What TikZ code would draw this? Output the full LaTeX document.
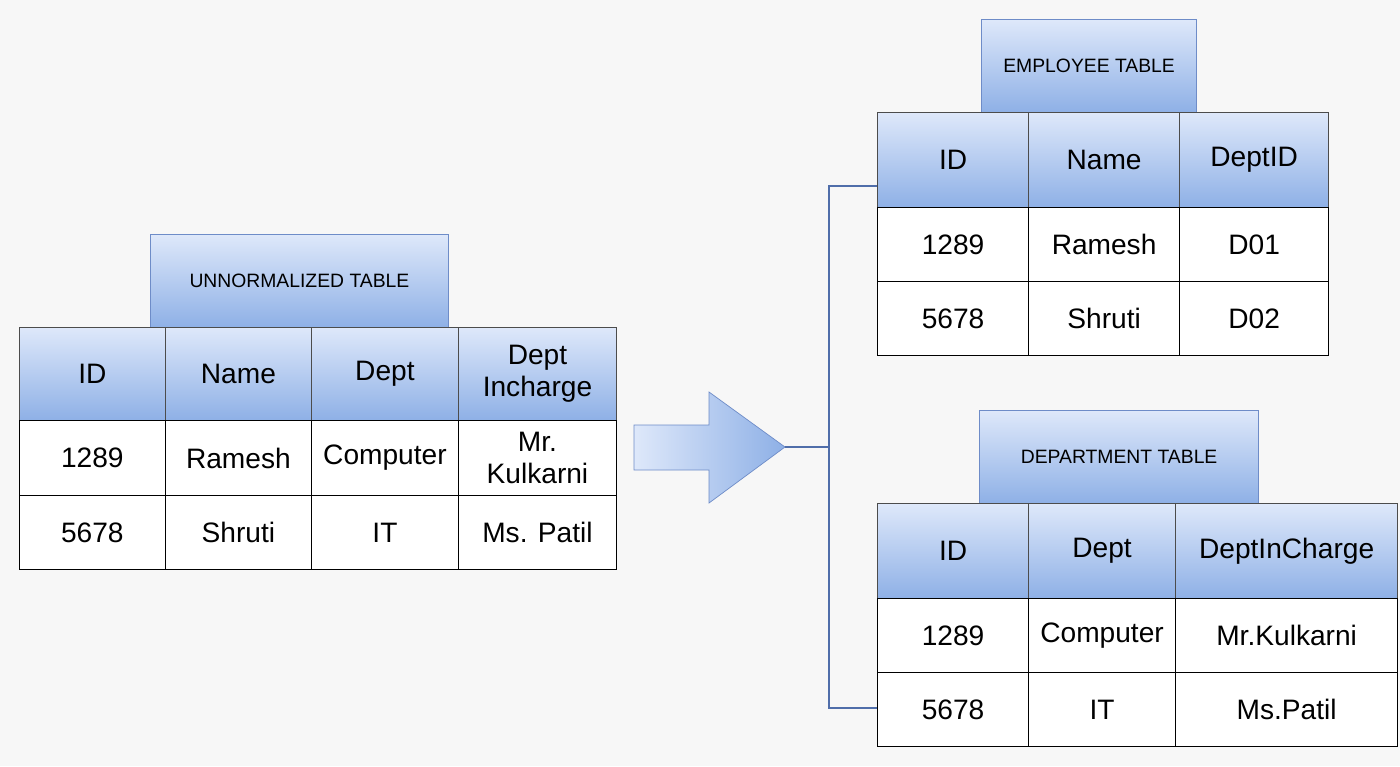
\documentclass[tikz,border=0pt]{standalone}
\usepackage{fontspec}
\setmainfont{Liberation Sans}
\definecolor{hdrbot}{RGB}{142,176,230}
\definecolor{hdrtop}{RGB}{222,232,250}
\definecolor{ttlline}{RGB}{110,140,200}
\definecolor{linkline}{RGB}{80,110,170}
\tikzset{
  hdr/.style={draw=black!70, top color=hdrtop, bottom color=hdrbot, inner sep=0pt, align=center, font=\fontsize{16}{18}\selectfont},
  ttl/.style={hdr, draw=ttlline, font=\fontsize{11}{13}\selectfont},
  cel/.style={draw=black, fill=white, inner sep=0pt, align=center, font=\fontsize{16}{18}\selectfont},
}
\newcommand{\cellbox}[6]{% style, name, x1, y1, x2, y2 ... text
  \node[#1, minimum width=(#5-#3)*0.02cm, minimum height=(#6-#4)*0.02cm, anchor=north west] (#2) at (#3*0.02,-#4*0.02)}
\begin{document}
\begin{tikzpicture}
  \fill[gray!6] (0,0) rectangle (28,-15.32);
  \useasboundingbox (0,0) rectangle (28,-15.32);
  % unnormalized
  \cellbox{ttl}{ut}{150}{234}{448}{327} {UNNORMALIZED TABLE};
  \cellbox{hdr}{u1}{19}{327}{165}{420} {ID};
  \cellbox{hdr}{u2}{165}{327}{311}{420} {Name};
  \cellbox{hdr}{u3}{311}{327}{458}{420} {Dept};
  \cellbox{hdr}{u4}{458}{327}{616}{420} {Dept\\Incharge};
  \cellbox{cel}{u5}{19}{420}{165}{495} {1289};
  \cellbox{cel}{u6}{165}{420}{311}{495} {Ramesh};
  \cellbox{cel}{u7}{311}{420}{458}{495} {Computer};
  \cellbox{cel}{u8}{458}{420}{616}{495} {Mr.\\Kulkarni};
  \cellbox{cel}{u9}{19}{495}{165}{569} {5678};
  \cellbox{cel}{u10}{165}{495}{311}{569} {Shruti};
  \cellbox{cel}{u11}{311}{495}{458}{569} {IT};
  \cellbox{cel}{u12}{458}{495}{616}{569} {Ms. Patil};
  % employee
  \cellbox{ttl}{et}{981}{19}{1196}{112} {EMPLOYEE TABLE};
  \cellbox{hdr}{e1}{877}{112}{1028}{207} {ID};
  \cellbox{hdr}{e2}{1028}{112}{1179}{207} {Name};
  \cellbox{hdr}{e3}{1179}{112}{1328}{207} {DeptID};
  \cellbox{cel}{e4}{877}{207}{1028}{281} {1289};
  \cellbox{cel}{e5}{1028}{207}{1179}{281} {Ramesh};
  \cellbox{cel}{e6}{1179}{207}{1328}{281} {D01};
  \cellbox{cel}{e7}{877}{281}{1028}{355} {5678};
  \cellbox{cel}{e8}{1028}{281}{1179}{355} {Shruti};
  \cellbox{cel}{e9}{1179}{281}{1328}{355} {D02};
  % department
  \cellbox{ttl}{dt}{979}{410}{1258}{503} {DEPARTMENT TABLE};
  \cellbox{hdr}{d1}{877}{503}{1028}{598} {ID};
  \cellbox{hdr}{d2}{1028}{503}{1175}{598} {Dept};
  \cellbox{hdr}{d3}{1175}{503}{1397}{598} {DeptInCharge};
  \cellbox{cel}{d4}{877}{598}{1028}{672} {1289};
  \cellbox{cel}{d5}{1028}{598}{1175}{672} {Computer};
  \cellbox{cel}{d6}{1175}{598}{1397}{672} {Mr.Kulkarni};
  \cellbox{cel}{d7}{877}{672}{1028}{746} {5678};
  \cellbox{cel}{d8}{1028}{672}{1175}{746} {IT};
  \cellbox{cel}{d9}{1175}{672}{1397}{746} {Ms.Patil};
  % arrow
  \draw[draw=ttlline, left color=hdrtop, right color=hdrbot]
    (12.68,-8.5) -- (14.18,-8.5) -- (14.18,-7.84) -- (15.7,-8.94) -- (14.18,-10.06) -- (14.18,-9.4) -- (12.68,-9.4) -- cycle;
  \coordinate (tip) at (15.7,-8.94);
  \coordinate (fork) at (16.58,-8.94);
  \coordinate (up) at (17.54,-3.72);
  \coordinate (down) at (17.54,-14.16);
  \draw[linkline, line width=1.2pt] (tip) -- (fork) (up) -| (fork) |- (down);
\end{tikzpicture}
\end{document}
